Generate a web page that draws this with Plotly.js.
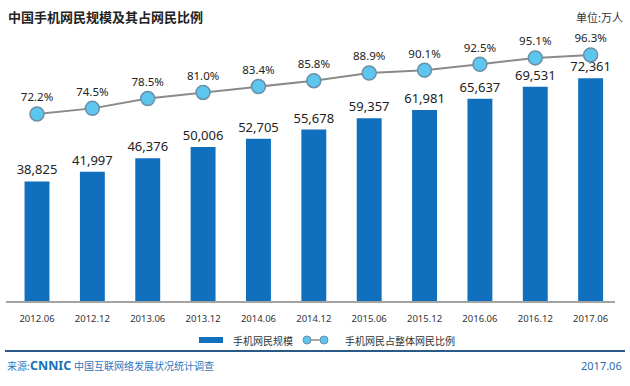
<!DOCTYPE html>
<html><head><meta charset="utf-8">
<script src="https://cdn.plot.ly/plotly-3.0.1.min.js"></script>
<style>body{margin:0;background:#fff}#c{width:630px;height:386px}</style>
</head><body><div id="c"></div>
<script>
const periods = ['2012.06','2012.12','2013.06','2013.12','2014.06','2014.12','2015.06','2015.12','2016.06','2016.12','2017.06'];
const mobileUsers = [38825,41997,46376,50006,52705,55678,59357,61981,65637,69531,72361];
const shareOfUsers = [72.2,74.5,78.5,81.0,83.4,85.8,88.9,90.1,92.5,95.1,96.3];
const titleText = '中国手机网民规模及其占网民比例';
const unitText = '单位:万人';
const legendBar = '手机网民规模';
const legendLine = '手机网民占整体网民比例';
const sourceLabel = '来源:';
const sourceName = '中国互联网络发展状况统计调查';
const dateText = '2017.06';

const idx = periods.map((_, i) => i);
const blue = '#1070bd';
const fmt = v => v.toLocaleString('en-US');
// paper-coordinate helpers (plot area: x 6..615, y 40..301)
const px = x => (x - 6) / 609;
const py = y => (301 - y) / 261;

const traces = [
  {type:'bar', x: idx, y: mobileUsers, marker:{color: blue}, width: 0.45,
   text: mobileUsers.map(fmt), textposition:'outside', cliponaxis:false, constraintext:'none',
   textfont:{family:'Noto Sans', size:13, color:'#222'}, hoverinfo:'none'},
  {type:'scatter', mode:'lines+markers+text', x: idx, y: shareOfUsers, yaxis:'y2',
   line:{color:'#8a8a8a', width:2},
   marker:{size:14, color:'#5cc6ee', line:{color:'#6b8fa6', width:1.5}},
   text: shareOfUsers.map(v => v.toFixed(1)+'%'), textposition:'top center', cliponaxis:false,
   textfont:{family:'Noto Sans', size:11.5, color:'#222'}, hoverinfo:'none'}
];

const layout = {
  width:630, height:386, margin:{l:6, r:15, t:40, b:85},
  paper_bgcolor:'#fff', plot_bgcolor:'rgba(0,0,0,0)', showlegend:false,
  font:{family:'Noto Sans CJK SC, Noto Sans', color:'#333'},
  xaxis:{range:[-0.56,10.44], tickvals: idx, ticktext: periods, showgrid:false, zeroline:false,
         showline:true, linecolor:'#a3a3a3', linewidth:1.5, ticks:'', ticklabelstandoff:8,
         tickfont:{family:'Noto Sans', size:9.5, color:'#333'}},
  yaxis:{range:[0,84740], visible:false, showgrid:false, zeroline:false},
  yaxis2:{range:[-4.1,102.4], overlaying:'y', visible:false, showgrid:false, zeroline:false},
  shapes:[
    {type:'rect', xref:'paper', yref:'paper', x0:px(199), x1:px(223), y0:py(343), y1:py(337),
     fillcolor: blue, line:{width:0}},
    {type:'line', xref:'paper', yref:'paper', x0:px(305), x1:px(325), y0:py(340), y1:py(340),
     line:{color:'#8a8a8a', width:1.5}},
    {type:'circle', xref:'paper', yref:'paper', x0:px(303), x1:px(311), y0:py(344), y1:py(336),
     fillcolor:'#5cc6ee', line:{color:'#6b8fa6', width:1}},
    {type:'circle', xref:'paper', yref:'paper', x0:px(320), x1:px(328), y0:py(344), y1:py(336),
     fillcolor:'#5cc6ee', line:{color:'#6b8fa6', width:1}},
    {type:'line', xref:'paper', yref:'paper', x0:px(5), x1:px(625), y0:py(351), y1:py(351),
     line:{color:'#2a5a85', width:2}}
  ],
  annotations:[
    {text:'<b>'+titleText+'</b>', xref:'paper', yref:'paper', x:0, y:py(17), xanchor:'left', yanchor:'middle',
     showarrow:false, font:{family:'Noto Sans CJK SC', size:13, color:'#222'}},
    {text:unitText, xref:'paper', yref:'paper', x:px(625), y:py(17), xanchor:'right', yanchor:'middle',
     showarrow:false, font:{family:'Noto Sans CJK SC', size:11, color:'#333'}},
    {text:legendBar, xref:'paper', yref:'paper', x:px(231), y:py(340), xanchor:'left', yanchor:'middle',
     showarrow:false, font:{family:'Noto Sans CJK SC', size:10, color:'#333'}},
    {text:legendLine, xref:'paper', yref:'paper', x:px(343), y:py(340), xanchor:'left', yanchor:'middle',
     showarrow:false, font:{family:'Noto Sans CJK SC', size:10, color:'#333'}},
    {text:sourceLabel, xref:'paper', yref:'paper', x:px(5), y:py(366), xanchor:'left', yanchor:'middle',
     showarrow:false, font:{family:'Noto Sans CJK SC', size:10, color:'#2b78bd'}},
    {text:'<b>CNNIC</b>', xref:'paper', yref:'paper', x:px(28), y:py(366), xanchor:'left', yanchor:'middle',
     showarrow:false, font:{family:'Noto Sans', size:12.5, color:'#1a6fb8'}},
    {text:sourceName, xref:'paper', yref:'paper', x:px(72), y:py(366), xanchor:'left', yanchor:'middle',
     showarrow:false, font:{family:'Noto Sans CJK SC', size:10, color:'#2b78bd'}},
    {text:dateText, xref:'paper', yref:'paper', x:px(624), y:py(366), xanchor:'right', yanchor:'middle',
     showarrow:false, font:{family:'Noto Sans', size:11, color:'#2b6fa8'}}
  ]
};
Plotly.newPlot('c', traces, layout, {staticPlot:true, displayModeBar:false});
</script></body></html>
